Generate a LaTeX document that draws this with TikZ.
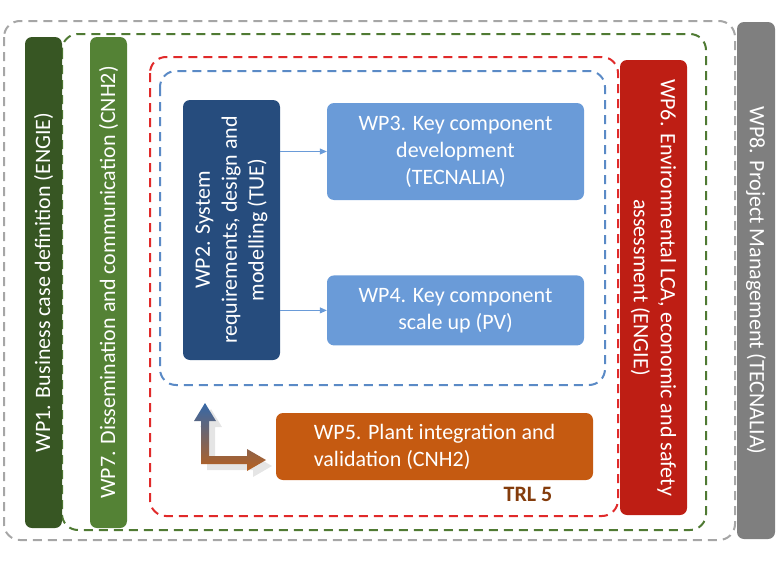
\documentclass[tikz,border=0pt]{standalone}
\usepackage{fontspec}
\setmainfont{Carlito}
\usetikzlibrary{positioning,arrows.meta}

\definecolor{wpone}{HTML}{375623}
\definecolor{wpseven}{HTML}{548235}
\definecolor{wpeight}{HTML}{7F7F7F}
\definecolor{wpsix}{HTML}{BE1E14}
\definecolor{wptwo}{HTML}{264C7D}
\definecolor{wpkey}{HTML}{6A9BD8}
\definecolor{wpfive}{HTML}{C55A11}
\definecolor{trlbrown}{HTML}{843C0C}
\definecolor{framegray}{HTML}{A6A6A6}
\definecolor{framegreen}{HTML}{4F7A33}
\definecolor{framered}{HTML}{E02A2A}
\definecolor{frameblue}{HTML}{5A8AC6}
\definecolor{arrowblue}{HTML}{3568A8}
\definecolor{arrowbrown}{HTML}{B8601E}

\begin{document}
\begin{tikzpicture}[x=1pt, y=-1pt,
wpnode/.style={rectangle, rounded corners=7pt, text=white, align=center, inner sep=2pt, font=\fontsize{22}{27}\selectfont},
wpframe/.style={rounded corners=16pt, line width=2pt, dash pattern=on 9pt off 6pt},
flow/.style={draw=wpkey, line width=0.8pt, -{Triangle[length=7pt,width=6pt]}},
]
\useasboundingbox (0,0) rectangle (780,565);

%Frames
\draw[wpframe, draw=framegray]  (4,21)    rectangle (735,540);
\draw[wpframe, draw=framegreen] (62,34)   rectangle (706,530);
\draw[wpframe, draw=framered]   (150,57)  rectangle (618,516);
\draw[wpframe, draw=frameblue]  (160,71)  rectangle (605,385);

%Nodes
\node[wpnode, fill=wpone, rotate=90, minimum width=491pt, minimum height=37pt]   (WP1) at (43.5,282.5)  {WP1. Business case definition (ENGIE)};
\node[wpnode, fill=wpseven, rotate=90, minimum width=491pt, minimum height=37pt] (WP7) at (108.5,282.5) {WP7. Dissemination and communication (CNH2)};
\node[wpnode, fill=wpeight, rotate=-90, minimum width=517pt, minimum height=38pt] (WP8) at (756,280.5)   {WP8. Project Management (TECNALIA)};
\node[wpnode, fill=wpsix, rotate=-90, minimum width=455pt, minimum height=67pt]  (WP6) at (653.5,287.5) {WP6. Environmental LCA, economic and safety\\assessment (ENGIE)};
\node[wpnode, fill=wptwo, rotate=90, minimum width=260pt, minimum height=97pt]   (WP2) at (231.5,230)   {WP2. System\\requirements, design and\\modelling (TUE)};
\node[wpnode, fill=wpkey, minimum width=257pt, minimum height=97pt]              (WP3) at (455.5,151.5) {WP3. Key component\\development\\(TECNALIA)};
\node[wpnode, fill=wpkey, minimum width=257pt, minimum height=70pt]              (WP4) [below=75pt of WP3] {WP4. Key component\\scale up (PV)};
\node[wpnode, fill=wpfive, align=left, minimum width=317pt, minimum height=67pt] (WP5) at (434.5,446.5) {WP5. Plant integration and\\validation (CNH2)};
\node[text=trlbrown, font=\fontsize{22}{27}\selectfont\bfseries] (TRL) at (528,494) {TRL 5};

%Lines
\draw[flow] (WP2.south |- WP3.west) -- (WP3.west);
\draw[flow] (WP2.south |- WP4.west) -- (WP4.west);

%Turn arrow
\fill[black, opacity=0.10] (207,427) -- (200,427) -- (211,409) -- (222,427) -- (215,427) -- (215,462) -- (253,462) -- (253,455) -- (272,466) -- (253,477) -- (253,470) -- (207,470) -- cycle;
\shade[top color=arrowblue, bottom color=arrowbrown, middle color=arrowblue!50!arrowbrown]
  (201,421) -- (194,421) -- (205,403) -- (216,421) -- (209,421) -- (209,456) -- (247,456) -- (247,449) -- (266,460) -- (247,471) -- (247,464) -- (201,464) -- cycle;
\end{tikzpicture}
\end{document}
